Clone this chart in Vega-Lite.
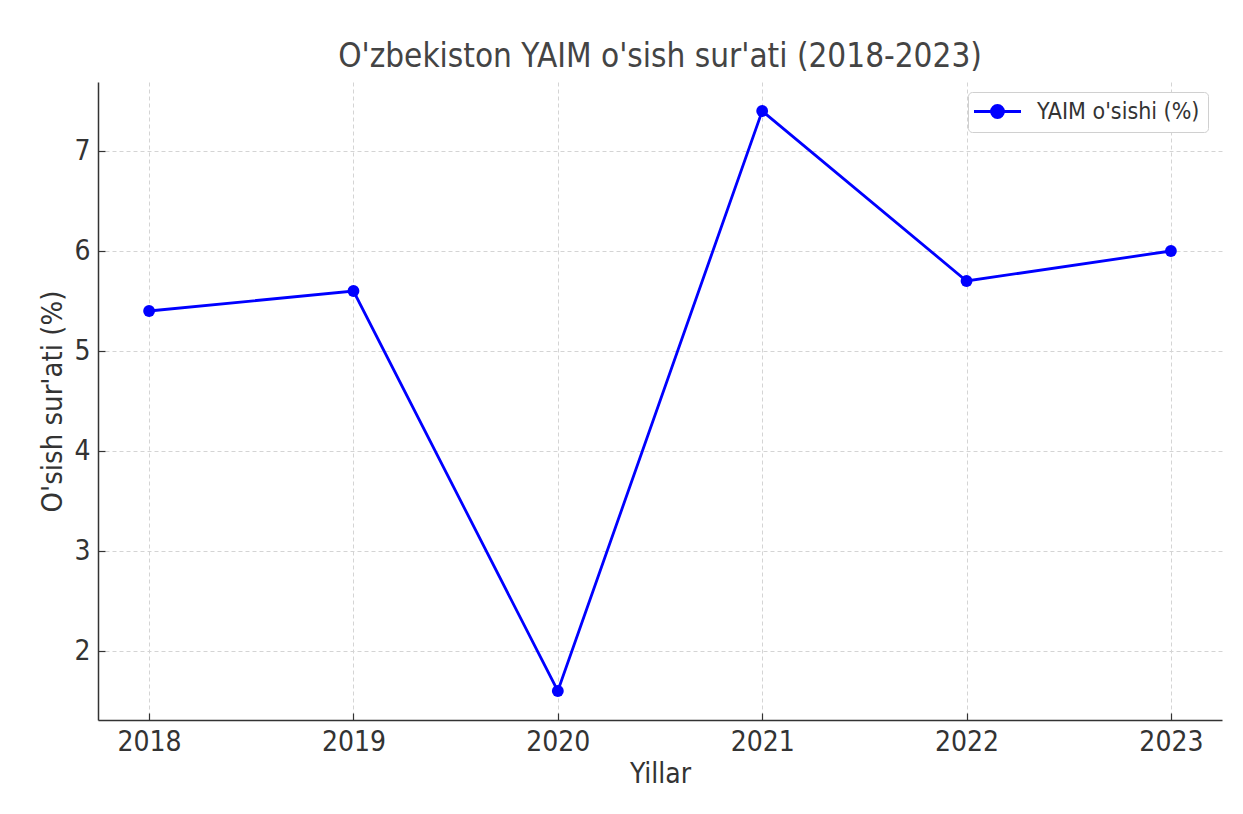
{
  "$schema": "https://vega.github.io/schema/vega-lite/v6.json",
  "width": 1124,
  "height": 638,
  "autosize": {"type": "none"},
  "padding": {"left": 98, "top": 82, "right": 21, "bottom": 94},
  "background": "white",
  "config": {
    "font": "DejaVu Sans Condensed, DejaVu Sans",
    "view": {"stroke": null}
  },
  "title": {
    "text": "O'zbekiston YAIM o'sish sur'ati (2018-2023)",
    "fontSize": 33,
    "fontWeight": "normal",
    "color": "#444444",
    "font": "DejaVu Sans Condensed, DejaVu Sans",
    "offset": 8
  },
  "data": {
    "values": [
      {"Yil": 2018, "Osish": 5.4, "Seriya": "YAIM o'sishi (%)"},
      {"Yil": 2019, "Osish": 5.6, "Seriya": "YAIM o'sishi (%)"},
      {"Yil": 2020, "Osish": 1.6, "Seriya": "YAIM o'sishi (%)"},
      {"Yil": 2021, "Osish": 7.4, "Seriya": "YAIM o'sishi (%)"},
      {"Yil": 2022, "Osish": 5.7, "Seriya": "YAIM o'sishi (%)"},
      {"Yil": 2023, "Osish": 6.0, "Seriya": "YAIM o'sishi (%)"}
    ]
  },
  "mark": {"type": "line", "strokeWidth": 2.8, "point": {"filled": true, "size": 140, "opacity": 1}},
  "encoding": {
    "x": {
      "field": "Yil",
      "type": "quantitative",
      "scale": {"domain": [2017.75, 2023.25], "nice": false, "zero": false},
      "axis": {
        "title": "Yillar",
        "values": [2018, 2019, 2020, 2021, 2022, 2023],
        "format": "d",
        "labelFontSize": 28,
        "labelColor": "#333333",
        "titleFontSize": 28,
        "titleFontWeight": "normal",
        "titleColor": "#333333",
        "titlePadding": 4,
        "labelPadding": 15,
        "tickSize": -7,
        "tickColor": "#333333",
        "tickWidth": 1.2,
        "domainColor": "#333333",
        "domainWidth": 1.5,
        "grid": true,
        "gridColor": "#d4d4d4",
        "gridDash": [4, 3],
        "gridWidth": 1,
        "labelFlush": false
      }
    },
    "y": {
      "field": "Osish",
      "type": "quantitative",
      "scale": {"domain": [1.31, 7.69], "nice": false, "zero": false},
      "axis": {
        "title": "O'sish sur'ati (%)",
        "values": [2, 3, 4, 5, 6, 7],
        "labelFontSize": 28,
        "labelColor": "#333333",
        "titleFontSize": 29,
        "titleFontWeight": "normal",
        "titleColor": "#333333",
        "titlePadding": 6,
        "labelPadding": 15,
        "tickSize": -7,
        "tickColor": "#333333",
        "tickWidth": 1.2,
        "domainColor": "#333333",
        "domainWidth": 1.5,
        "grid": true,
        "gridColor": "#d4d4d4",
        "gridDash": [4, 3],
        "gridWidth": 1
      }
    },
    "color": {
      "field": "Seriya",
      "type": "nominal",
      "scale": {"range": ["#0000ff"]},
      "legend": {
        "title": null,
        "orient": "none",
        "legendX": 870,
        "legendY": 10,
        "labelFontSize": 23,
        "labelColor": "#333333",
        "labelLimit": 400,
        "symbolType": "M-2.35,0H2.35M0.6,0A0.6,0.6 0 1,1 -0.6,0A0.6,0.6 0 1,1 0.6,0Z",
        "symbolSize": 400,
        "symbolStrokeWidth": 2.8,
        "symbolFillColor": "#0000ff",
        "symbolStrokeColor": "#0000ff",
        "symbolOffset": 10,
        "strokeColor": "#d0d0d0",
        "fillColor": "white",
        "cornerRadius": 4,
        "padding": 8,
        "labelOffset": 28
      }
    }
  }
}
